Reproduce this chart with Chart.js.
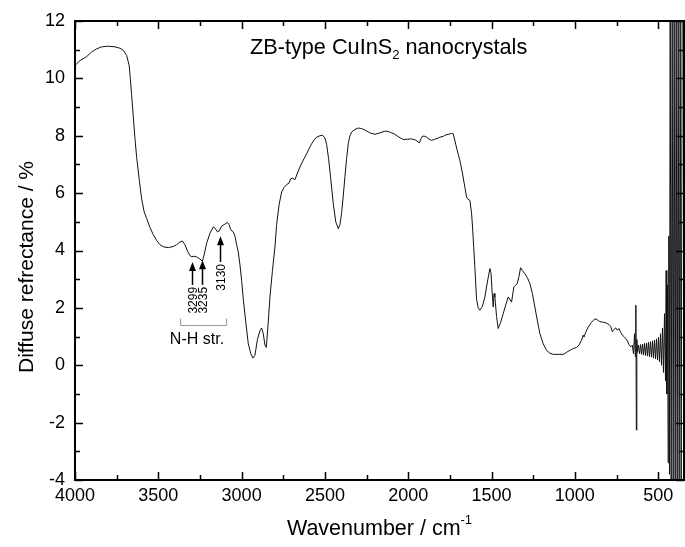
<!DOCTYPE html>
<html>
<head>
<meta charset="utf-8">
<script src="https://cdn.jsdelivr.net/npm/chart.js@4/dist/chart.umd.min.js"></script>
<style>
  body { margin: 0; background: #fff; }
  canvas { display: block; }
</style>
</head>
<body>
<canvas id="ir-chart" width="685" height="547"></canvas>
<script>
// spectrum (wavenumber / cm-1, reflectance / %)
const wavenumbers = [
  4000, 3970, 3930, 3900, 3870, 3840, 3800, 3760, 3730, 3710, 3690, 3675, 3668, 3660, 3650, 3640, 3630, 3614, 3600, 3585,
  3570, 3550, 3530, 3510, 3490, 3470, 3440, 3410, 3390, 3370, 3355, 3340, 3325, 3310, 3299, 3285, 3270, 3250, 3236, 3225,
  3210, 3190, 3170, 3160, 3145, 3135, 3120, 3100, 3085, 3075, 3065, 3050, 3040, 3030, 3020, 3010, 3000, 2990, 2975, 2960,
  2945, 2932, 2920, 2905, 2890, 2880, 2870, 2860, 2852, 2840, 2830, 2815, 2800, 2790, 2775, 2760, 2745, 2730, 2715, 2706,
  2695, 2680, 2665, 2650, 2630, 2610, 2595, 2580, 2565, 2550, 2530, 2514, 2500, 2490, 2478, 2465, 2450, 2435, 2420, 2410,
  2400, 2390, 2380, 2370, 2360, 2350, 2340, 2320, 2300, 2280, 2260, 2230, 2200, 2170, 2140, 2120, 2100, 2080, 2055, 2030,
  2005, 1980, 1955, 1934, 1925, 1914, 1900, 1890, 1875, 1860, 1840, 1820, 1810, 1790, 1780, 1760, 1740, 1730, 1715, 1700,
  1690, 1675, 1660, 1650, 1640, 1630, 1620, 1614, 1607, 1600, 1590, 1580, 1570, 1555, 1540, 1525, 1510, 1503, 1497, 1490,
  1485, 1480, 1470, 1460, 1445, 1430, 1415, 1400, 1390, 1380, 1366, 1346, 1335, 1326, 1315, 1300, 1285, 1270, 1255, 1240,
  1225, 1210, 1190, 1170, 1150, 1130, 1100, 1070, 1050, 1030, 1010, 990, 975, 960, 950, 945, 935, 920, 900, 880,
  865, 850, 830, 810, 795, 785, 775, 765, 755, 745, 735, 725, 715, 705, 695, 685, 675, 665, 655, 648,
  642, 637, 634, 631, 628, 624, 618, 612, 606, 600, 594, 588, 582, 576, 570, 564, 558, 552, 546, 540,
  534, 528, 522, 516, 510, 504, 498, 492, 486, 480, 474, 468, 462, 456, 452, 448, 444, 440, 436, 432,
  428, 422, 416, 410, 404, 398, 392, 386, 380, 374, 368, 362, 356
];
const reflectance = [
  10.45, 10.62, 10.76, 10.92, 11.03, 11.1, 11.12, 11.1, 11.05, 10.98, 10.8, 10.45, 10.0, 9.4, 8.65, 7.9, 7.25, 6.45, 5.8, 5.35,
  5.12, 4.8, 4.55, 4.35, 4.2, 4.13, 4.1, 4.14, 4.2, 4.3, 4.33, 4.2, 3.98, 3.82, 3.78, 3.8, 3.78, 3.7, 3.63, 3.85,
  4.25, 4.6, 4.82, 4.78, 4.65, 4.68, 4.85, 4.92, 4.98, 4.9, 4.72, 4.65, 4.5, 4.2, 3.95, 3.5, 2.96, 2.3, 1.5, 0.75,
  0.4, 0.25, 0.35, 0.9, 1.2, 1.3, 1.1, 0.7, 0.62, 1.5, 2.38, 3.3, 4.12, 4.9, 5.6, 6.04, 6.2, 6.3, 6.35, 6.5,
  6.52, 6.47, 6.7, 6.91, 7.15, 7.37, 7.55, 7.72, 7.85, 7.95, 8.0, 8.02, 7.92, 7.7, 7.2, 6.5, 5.63, 5.0, 4.76, 4.9,
  5.3, 5.9, 6.57, 7.2, 7.72, 8.0, 8.13, 8.22, 8.27, 8.25, 8.2, 8.1, 8.05, 8.1, 8.16, 8.15, 8.1, 8.05, 7.95, 7.87,
  7.88, 7.89, 7.85, 7.75, 7.88, 7.99, 7.98, 7.95, 7.88, 7.84, 7.88, 7.92, 7.95, 7.98, 8.02, 8.05, 8.08, 8.07, 7.7, 7.35,
  7.14, 6.7, 6.2, 5.86, 5.78, 5.75, 5.3, 4.82, 4.1, 3.4, 2.3, 2.0, 1.92, 2.05, 2.38, 2.9, 3.37, 3.2, 2.6, 2.03,
  2.5, 2.38, 1.7, 1.28, 1.5, 1.8, 2.1, 2.38, 2.3, 2.2, 2.73, 2.85, 3.1, 3.4, 3.3, 3.19, 3.05, 2.85, 2.5, 2.03,
  1.55, 1.1, 0.75, 0.52, 0.42, 0.38, 0.38, 0.38, 0.45, 0.52, 0.58, 0.62, 0.7, 0.87, 1.05, 0.98, 1.15, 1.33, 1.5, 1.62,
  1.58, 1.52, 1.5, 1.47, 1.42, 1.35, 1.17, 1.25, 1.3, 1.22, 1.28, 1.15, 1.05, 1.0, 0.93, 0.85, 0.72, 0.64, 0.7, 0.4,
  1.1, 0.3, 2.09, -2.26, 0.9, 0.45, 0.7, 0.4, 0.72, 0.38, 0.74, 0.36, 0.76, 0.34, 0.78, 0.32, 0.8, 0.3, 0.82, 0.28,
  0.85, 0.25, 0.88, 0.22, 0.92, 0.18, 0.98, 0.12, 1.1, 0.0, 1.3, -0.25, 1.8, -0.55, 3.3, -1.0, 2.8, -3.4, 4.5, -3.8,
  13, -5, 13, -5, 13, -5, 13, -5, 13, -5, 13, -5, 13
];

// axis ticks
const xTickValues = [4000, 3500, 3000, 2500, 2000, 1500, 1000, 500];
const xMinorTicks = [3750, 3250, 2750, 2250, 1750, 1250, 750];
const yTickValues = [-4, -2, 0, 2, 4, 6, 8, 10, 12];
const yMinorTicks = [-3, -1, 1, 3, 5, 7, 9, 11];

// N-H stretch markers
const peakLabels = ['3299', '3235', '3130'];
const peakWn = [3299, 3235, 3130];
const arrowHead = [3.6, 3.66, 4.5];
const arrowTail = [2.8, 2.8, 3.6];

const FONT = 'Arial, "Liberation Sans", sans-serif';

const framePlugin = {
  id: 'frame',
  afterDraw(chart) {
    const ctx = chart.ctx;
    const a = chart.chartArea;
    const xs = chart.scales.x;
    const ys = chart.scales.y;
    ctx.save();

    // box
    ctx.strokeStyle = '#000';
    ctx.lineWidth = 2;
    ctx.strokeRect(a.left, a.top, a.right - a.left, a.bottom - a.top);

    // inward ticks on all four sides
    ctx.lineWidth = 1.5;
    ctx.beginPath();
    const xt = (vals, len) => vals.forEach(v => {
      const px = Math.round(xs.getPixelForValue(v)) + 0.5;
      ctx.moveTo(px, a.bottom); ctx.lineTo(px, a.bottom - len);
      ctx.moveTo(px, a.top); ctx.lineTo(px, a.top + len);
    });
    const yt = (vals, len) => vals.forEach(v => {
      const py = Math.round(ys.getPixelForValue(v)) + 0.5;
      ctx.moveTo(a.left, py); ctx.lineTo(a.left + len, py);
      ctx.moveTo(a.right, py); ctx.lineTo(a.right - len, py);
    });
    xt(xTickValues, 8); xt(xMinorTicks, 5);
    yt(yTickValues, 8); yt(yMinorTicks, 5);
    ctx.stroke();

    // title with subscript
    ctx.fillStyle = '#000';
    ctx.textBaseline = 'alphabetic';
    ctx.textAlign = 'left';
    let tx = 250, ty = 54;
    ctx.font = '21.7px ' + FONT;
    ctx.fillText('ZB-type CuInS', tx, ty);
    tx += ctx.measureText('ZB-type CuInS').width;
    ctx.font = '13px ' + FONT;
    ctx.fillText('2', tx, ty + 5);
    tx += ctx.measureText('2').width;
    ctx.font = '21.7px ' + FONT;
    ctx.fillText(' nanocrystals', tx, ty);

    // x axis title with superscript
    ctx.font = '21.5px ' + FONT;
    const main = 'Wavenumber / cm';
    const mw = ctx.measureText(main).width;
    ctx.font = '13px ' + FONT;
    const sw = ctx.measureText('-1').width;
    let sx = (a.left + a.right) / 2 - (mw + sw) / 2;
    ctx.font = '21.5px ' + FONT;
    ctx.fillText(main, sx, 535);
    ctx.font = '13px ' + FONT;
    ctx.fillText('-1', sx + mw, 524);

    // y axis title
    ctx.save();
    ctx.translate(33, 267);
    ctx.rotate(-Math.PI / 2);
    ctx.textAlign = 'center';
    ctx.font = '21px ' + FONT;
    ctx.fillText('Diffuse refrectance / %', 0, 0);
    ctx.restore();

    // arrows and rotated labels
    peakWn.forEach((wn, i) => {
      const px = Math.round(xs.getPixelForValue(wn)) + 0.5;
      const head = ys.getPixelForValue(arrowHead[i]);
      const tail = ys.getPixelForValue(arrowTail[i]);
      ctx.lineWidth = 1.5;
      ctx.beginPath();
      ctx.moveTo(px, tail); ctx.lineTo(px, head + 6);
      ctx.stroke();
      ctx.beginPath();
      ctx.moveTo(px, head);
      ctx.lineTo(px - 3.5, head + 9);
      ctx.lineTo(px + 3.5, head + 9);
      ctx.closePath();
      ctx.fill();
      ctx.save();
      ctx.translate(px + 4, tail + 2);
      ctx.rotate(-Math.PI / 2);
      ctx.textAlign = 'right';
      ctx.font = '12px ' + FONT;
      ctx.fillText(peakLabels[i], 0, 0);
      ctx.restore();
    });

    // bracket + N-H str.
    const bl = xs.getPixelForValue(3366), br = xs.getPixelForValue(3090);
    const by = Math.round(ys.getPixelForValue(1.39)) + 0.5;
    ctx.strokeStyle = '#999';
    ctx.lineWidth = 1;
    ctx.beginPath();
    ctx.moveTo(bl, by - 7); ctx.lineTo(bl, by); ctx.lineTo(br, by); ctx.lineTo(br, by - 7);
    ctx.stroke();
    ctx.font = '16px ' + FONT;
    ctx.textAlign = 'center';
    ctx.fillText('N-H str.', xs.getPixelForValue(3268), by + 18);

    ctx.restore();
  }
};

new Chart(document.getElementById('ir-chart'), {
  type: 'line',
  data: {
    datasets: [{
      label: 'ZB-type CuInS2 nanocrystals',
      data: wavenumbers.map((w, i) => ({ x: w, y: reflectance[i] })),
      borderColor: '#111',
      borderWidth: 1,
      pointRadius: 0,
      fill: false,
      tension: 0
    }]
  },
  options: {
    responsive: false,
    animation: false,
    layout: { padding: { top: 21, right: 1, left: 0, bottom: 0 } },
    plugins: { legend: { display: false }, tooltip: { enabled: false } },
    scales: {
      x: {
        type: 'linear',
        reverse: true,
        min: 345,
        max: 4000,
        grid: { display: false, drawTicks: false },
        border: { display: false },
        afterBuildTicks: s => { s.ticks = xTickValues.map(v => ({ value: v })); },
        afterFit: s => { s.height = 67; },
        ticks: {
          autoSkip: false,
          maxRotation: 0,
          padding: 5,
          color: '#000',
          font: { family: FONT, size: 18 },
          callback: v => String(v)
        }
      },
      y: {
        min: -4,
        max: 12,
        grid: { display: false, drawTicks: false },
        border: { display: false },
        afterBuildTicks: s => { s.ticks = yTickValues.map(v => ({ value: v })); },
        afterFit: s => { s.width = 75; },
        ticks: {
          padding: 10,
          color: '#000',
          font: { family: FONT, size: 18 },
          callback: v => String(v)
        }
      }
    }
  },
  plugins: [framePlugin]
});
</script>
</body>
</html>
